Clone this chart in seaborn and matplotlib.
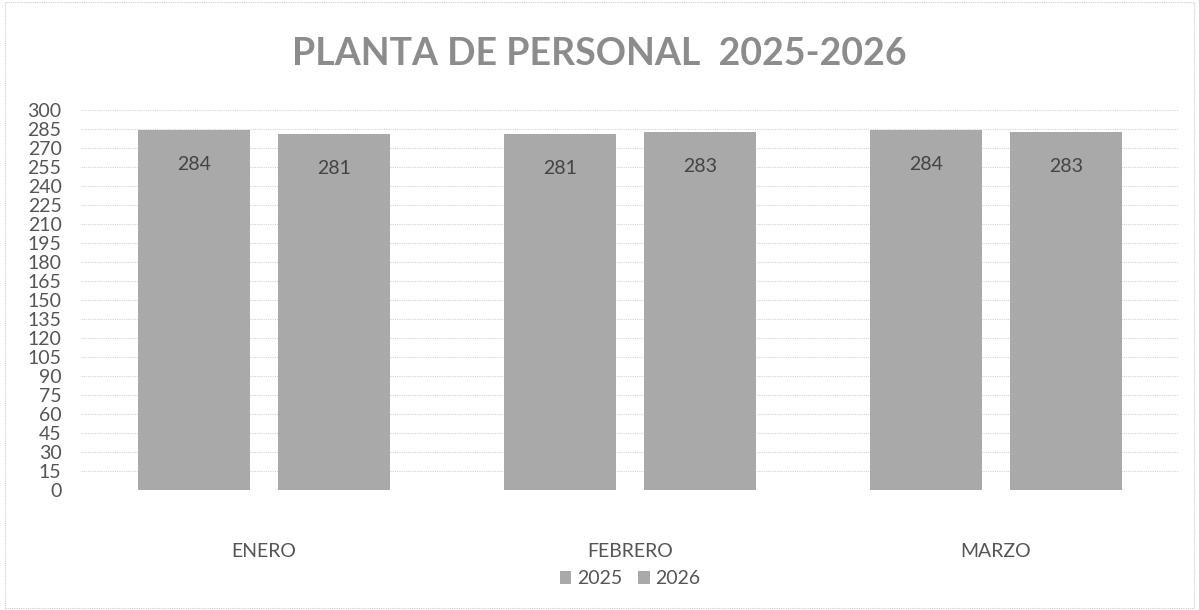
import matplotlib
matplotlib.use("Agg")
import matplotlib.pyplot as plt
import pandas as pd
import seaborn as sns

meses = ["ENERO", "FEBRERO", "MARZO"]
anios = ["2025", "2026"]
valores_2025 = [284, 281, 284]
valores_2026 = [281, 283, 283]

df = pd.DataFrame({
    "mes": meses * 2,
    "anio": [anios[0]] * 3 + [anios[1]] * 3,
    "valor": valores_2025 + valores_2026,
})

sns.set_style("white")
plt.rcParams["font.family"] = ["Lato", "DejaVu Sans"]

fig = plt.figure(figsize=(11.99, 6.10), dpi=100)
ax = fig.add_axes([81 / 1199, 1 - 490 / 610, 1098 / 1199, 380 / 610])

sns.barplot(data=df, x="mes", y="valor", hue="anio", order=meses, hue_order=anios,
            palette=["#a9a9a9", "#a9a9a9"], width=0.765, gap=0.2, ax=ax,
            edgecolor="none", legend=True)

ax.set_ylim(0, 300)
ax.set_yticks(range(0, 301, 15))
ax.grid(axis="y", color="#d4d4d4", linewidth=0.8, linestyle=(0, (1, 1)))
ax.set_axisbelow(True)
for s in ax.spines.values():
    s.set_visible(False)
ax.tick_params(axis="y", labelsize=14, colors="#555555", length=0, pad=14)
ax.tick_params(axis="x", labelsize=14, colors="#555555", length=0, pad=38)
ax.set_xlabel("")
ax.set_ylabel("")

for c in ax.containers:
    ax.bar_label(c, label_type="edge", padding=-31, fontsize=14, color="#444444")

leg = ax.legend(loc="upper center", bbox_to_anchor=(0.5, -0.165), ncol=2, frameon=False,
                fontsize=14, handlelength=0.6, handleheight=0.6, columnspacing=0.8,
                handletextpad=0.3)
for t in leg.get_texts():
    t.set_color("#555555")

fig.text(0.5, 1 - 54 / 610, "PLANTA DE PERSONAL  2025-2026", ha="center", va="center",
         fontsize=27, fontweight="bold", color="#8c8c8c")

fig.patches.append(plt.Rectangle((0.004, 0.004), 0.992, 0.992, transform=fig.transFigure,
                                 fill=False, edgecolor="#cccccc", linewidth=0.8,
                                 linestyle=(0, (1, 1))))

fig.savefig("out.png", dpi=100)
